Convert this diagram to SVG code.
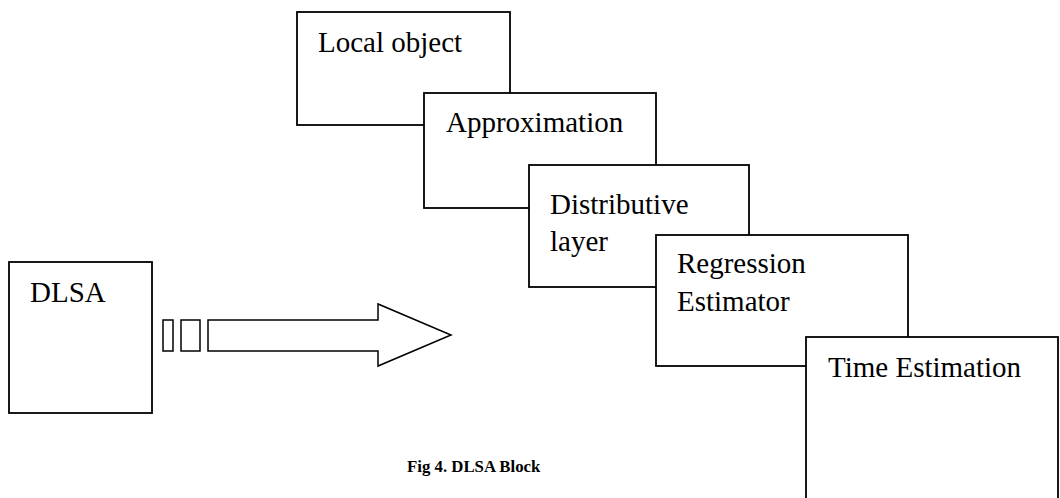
<svg xmlns="http://www.w3.org/2000/svg" width="1060" height="498" viewBox="0 0 1060 498">
<style>
.box{fill:#fff;stroke:#000;stroke-width:1.8}
.lbl{font-family:"Liberation Serif","Times New Roman",serif;font-size:29px;fill:#000}
.cap{font-family:"Liberation Serif","Times New Roman",serif;font-size:16.8px;font-weight:bold;fill:#000}
.arr{fill:#fff;stroke:#000;stroke-width:1.5}
</style>
<rect x="0" y="0" width="1060" height="498" fill="#fff"/>
<g id="dlsa">
<rect class="box" x="9" y="262" width="143" height="151"/>
<text class="lbl" x="30" y="302">DLSA</text>
</g>
<g id="connectors">
<rect class="arr" x="163" y="320" width="10" height="31"/>
<rect class="arr" x="181" y="320" width="19" height="31"/>
<polygon class="arr" points="208,320 378,320 378,304 451,335 378,366 378,351 208,351"/>
</g>
<g id="local-object">
<rect class="box" x="297" y="12" width="213" height="113"/>
<text class="lbl" x="318" y="52">Local object</text>
</g>
<g id="approximation">
<rect class="box" x="424" y="93" width="232" height="115"/>
<text class="lbl" x="446" y="132">Approximation</text>
</g>
<g id="distributive-layer">
<rect class="box" x="529" y="165" width="220" height="122"/>
<text class="lbl" x="550" y="214">Distributive</text>
<text class="lbl" x="550" y="251">layer</text>
</g>
<g id="regression-estimator">
<rect class="box" x="656" y="235" width="252" height="131"/>
<text class="lbl" x="677" y="273">Regression</text>
<text class="lbl" x="677" y="311">Estimator</text>
</g>
<g id="time-estimation">
<rect class="box" x="806" y="337" width="252" height="170"/>
<text class="lbl" x="828" y="377">Time Estimation</text>
</g>
<text class="cap" x="407" y="472">Fig 4. DLSA Block</text>
</svg>
